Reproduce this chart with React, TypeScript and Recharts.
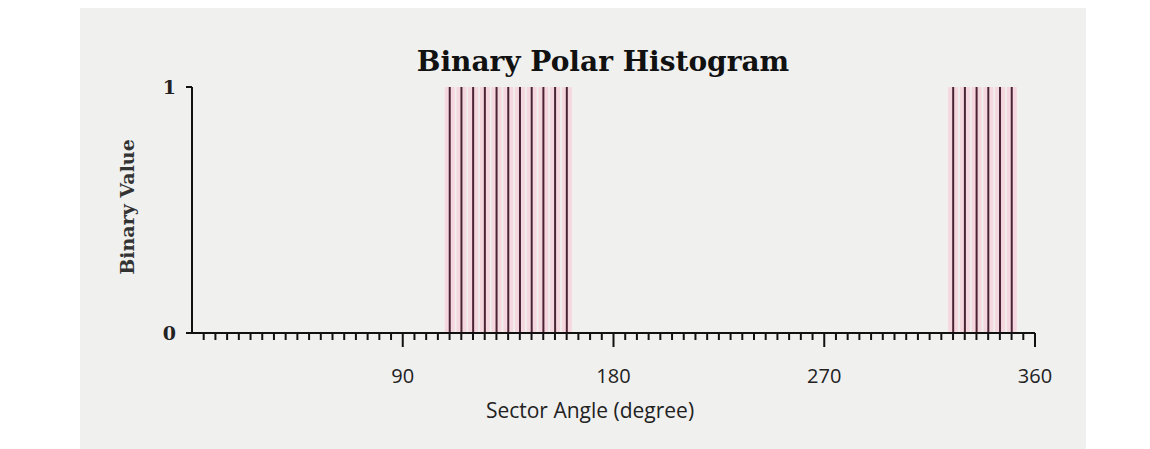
import React from 'react';
import { ComposedChart, Bar, XAxis, YAxis } from 'recharts';

const sectorAngles: number[] = [
  0, 5, 10, 15, 20, 25, 30, 35, 40, 45, 50, 55, 60, 65, 70, 75, 80, 85,
  90, 95, 100, 105, 110, 115, 120, 125, 130, 135, 140, 145, 150, 155, 160, 165, 170, 175,
  180, 185, 190, 195, 200, 205, 210, 215, 220, 225, 230, 235, 240, 245, 250, 255, 260, 265,
  270, 275, 280, 285, 290, 295, 300, 305, 310, 315, 320, 325, 330, 335, 340, 345, 350, 355,
];
const binaryValues: number[] = [
  0, 0, 0, 0, 0, 0, 0, 0, 0, 0, 0, 0, 0, 0, 0, 0, 0, 0,
  0, 0, 0, 0, 1, 1, 1, 1, 1, 1, 1, 1, 1, 1, 1, 0, 0, 0,
  0, 0, 0, 0, 0, 0, 0, 0, 0, 0, 0, 0, 0, 0, 0, 0, 0, 0,
  0, 0, 0, 0, 0, 0, 0, 0, 0, 0, 0, 1, 1, 1, 1, 1, 1, 0,
];
const majorTickLabels: number[] = [90, 180, 270, 360];
const yTicks: number[] = [0, 1];
const xTicks: number[] = [...sectorAngles, 360];

const data = sectorAngles.map((a, i) => ({ angle: a, value: binaryValues[i] }));

const LineBar = (props: any) => {
  const { x, y, width, height } = props;
  if (!height || height <= 0) return null;
  const cx = x + width / 2;
  return (
    <g>
      <rect x={cx - 5} y={y} width={10} height={height} fill="#f6cdd9" opacity={0.7} />
      <rect x={cx - 1} y={y} width={2} height={height} fill="#4a2434" />
    </g>
  );
};

const XTick = (props: any) => {
  const { x, y, payload } = props;
  const v = payload.value;
  if (v === 0) return null;
  const major = majorTickLabels.includes(v);
  return (
    <g>
      <line x1={x} y1={y} x2={x} y2={y + (major ? 14 : 7)} stroke="#111" strokeWidth={2} />
      {major && (
        <text x={x} y={y + 50} textAnchor="middle" fontSize={20} fill="#222"
          fontFamily="'Open Sans', 'DejaVu Sans', sans-serif">
          {v}
        </text>
      )}
    </g>
  );
};

const YTick = (props: any) => {
  const { x, y, payload } = props;
  return (
    <g>
      <line x1={x} y1={y} x2={x - 6} y2={y} stroke="#111" strokeWidth={2} />
      <text x={x - 16} y={y + 7} textAnchor="end" fontSize={19} fill="#222"
        fontFamily="'DejaVu Serif', serif" fontWeight="bold">
        {payload.value}
      </text>
    </g>
  );
};

const YLabel = (props: any) => {
  const vb = props.viewBox || {};
  const cx = 127;
  const cy = (vb.y ?? 87) + (vb.height ?? 246) / 2 - 3;
  return (
    <text x={cx} y={cy} transform={`rotate(-90 ${cx} ${cy})`} textAnchor="middle"
      dominantBaseline="central" fontSize={19} fontWeight="bold" fill="#333"
      fontFamily="'DejaVu Serif', serif">
      Binary Value
    </text>
  );
};

export default function App() {
  return (
    <div style={{ position: 'absolute', left: 0, top: 0, width: 1150, height: 449, background: '#ffffff', overflow: 'hidden' }}>
      <div style={{ position: 'absolute', left: 80, top: 8, width: 1006, height: 441, background: '#f0f0ef' }} />
      <div style={{ position: 'absolute', left: 0, top: 0 }}>
        <ComposedChart width={1150} height={449} data={data}
          margin={{ top: 87, right: 115, bottom: 36, left: 132 }}>
          <XAxis dataKey="angle" type="number" domain={[0, 360]} ticks={xTicks} interval={0}
            tickSize={0} tickMargin={0} tick={<XTick />} height={80}
            axisLine={{ stroke: '#111', strokeWidth: 2 }} allowDataOverflow />
          <YAxis type="number" domain={[0, 1]} ticks={yTicks} width={60} tickSize={0} tickMargin={0}
            tick={<YTick />} axisLine={{ stroke: '#111', strokeWidth: 2 }}
            label={<YLabel />} />
          <Bar dataKey="value" barSize={4} shape={<LineBar />} isAnimationActive={false} />
        </ComposedChart>
      </div>
      <div style={{ position: 'absolute', left: 0, width: 1206, top: 45, textAlign: 'center', fontFamily: "'DejaVu Serif', serif", fontWeight: 'bold', fontSize: 28, color: '#111' }}>
        Binary Polar Histogram
      </div>
      <div style={{ position: 'absolute', left: 0, width: 1180, top: 396, textAlign: 'center', fontFamily: "'Open Sans', 'DejaVu Sans', sans-serif", fontSize: 21, color: '#222' }}>
        Sector Angle (degree)
      </div>
    </div>
  );
}
